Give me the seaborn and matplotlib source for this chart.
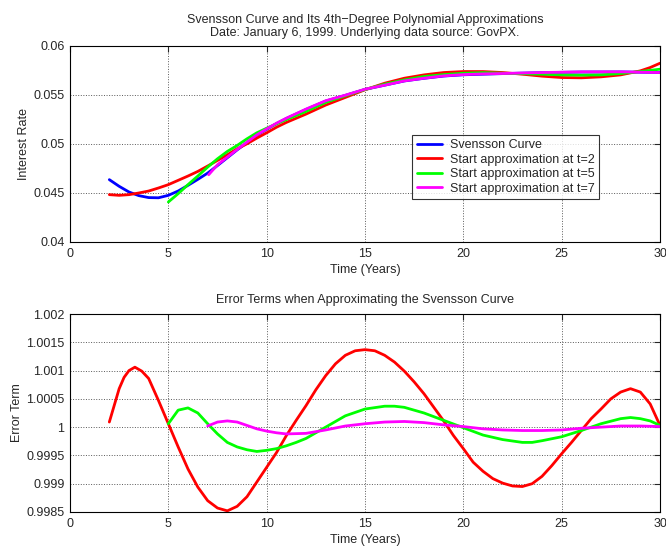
import matplotlib
matplotlib.use("Agg")
import matplotlib.pyplot as plt
import seaborn as sns
from matplotlib.ticker import FuncFormatter

# =========================================================
# DADOS
# =========================================================
# Curva de Svensson (painel superior)
t_svensson = [2, 2.5, 3, 3.5, 4, 4.5, 5, 5.5, 6, 6.5, 7, 7.5, 8, 8.5, 9, 9.5, 10, 10.5,
              11, 12, 13, 14, 15, 16, 17, 18, 19, 20, 22, 24, 26, 28, 30]
y_svensson = [0.04636, 0.04568, 0.04510, 0.04473, 0.04453, 0.04451, 0.04476, 0.04520,
              0.04578, 0.04639, 0.04703, 0.04780, 0.04860, 0.04940, 0.05015, 0.05090,
              0.05150, 0.05208, 0.05260, 0.05352, 0.05438, 0.05496, 0.05557, 0.05600,
              0.05643, 0.05670, 0.05693, 0.05706, 0.05718, 0.05728, 0.05734, 0.05735,
              0.05730]

# Aproximacao a partir de t=2
t_aprox2 = [2, 2.5, 3, 3.5, 4, 4.5, 5, 5.5, 6, 6.5, 7, 7.5, 8, 8.5, 9, 9.5, 10, 10.5,
            11, 12, 13, 14, 15, 16, 17, 18, 19, 20, 21, 22, 23, 24, 25, 26, 27, 28,
            29, 29.5, 30]
y_aprox2 = [0.04483, 0.04476, 0.04483, 0.04500, 0.04520, 0.04551, 0.04585, 0.04629,
            0.04673, 0.04720, 0.04775, 0.04832, 0.04890, 0.04951, 0.05002, 0.05060,
            0.05114, 0.05171, 0.05220, 0.05305, 0.05397, 0.05475, 0.05553, 0.05620,
            0.05671, 0.05705, 0.05729, 0.05739, 0.05739, 0.05729, 0.05712, 0.05692,
            0.05678, 0.05675, 0.05685, 0.05705, 0.05746, 0.05780, 0.05824]

# Aproximacao a partir de t=5
t_aprox5 = [5, 5.5, 6, 6.5, 7, 7.5, 8, 8.5, 9, 9.5, 10, 10.5, 11, 12, 13, 14, 15, 16,
            17, 18, 19, 20, 21, 22, 24, 25, 26, 27, 28, 29, 30]
y_aprox5 = [0.04408, 0.04493, 0.04585, 0.04673, 0.04764, 0.04849, 0.04924, 0.04985,
            0.05053, 0.05114, 0.05161, 0.05205, 0.05249, 0.05332, 0.05424, 0.05492,
            0.05556, 0.05610, 0.05654, 0.05688, 0.05708, 0.05722, 0.05728, 0.05722,
            0.05712, 0.05705, 0.05702, 0.05705, 0.05719, 0.05739, 0.05763]

# Aproximacao a partir de t=7
t_aprox7 = [7.05, 7.5, 8, 8.5, 9, 9.5, 10, 10.5, 11, 12, 13, 14, 15, 16, 17, 18, 19,
            20, 21, 22, 24, 26, 28, 30]
y_aprox7 = [0.04686, 0.04788, 0.04866, 0.04944, 0.05019, 0.05093, 0.05154, 0.05212,
            0.05263, 0.05356, 0.05441, 0.05498, 0.05559, 0.05600, 0.05644, 0.05671,
            0.05695, 0.05708, 0.05715, 0.05719, 0.05729, 0.05736, 0.05736, 0.05729]

# Termos de erro (painel inferior)
t_erro2 = [2, 2.5, 2.75, 3, 3.3, 3.65, 4, 4.5, 5, 5.5, 6, 6.5, 7, 7.5, 8, 8.5, 9, 9.5,
           10, 10.5, 11, 11.5, 12, 12.5, 13, 13.5, 14, 14.5, 15, 15.5, 16, 16.5, 17,
           17.5, 18, 18.5, 19, 19.5, 20, 20.5, 21, 21.5, 22, 22.5, 23, 23.5, 24, 24.5,
           25, 25.5, 26, 26.5, 27, 27.5, 28, 28.5, 29, 29.5, 30]
erro2 = [1.00009, 1.00068, 1.00088, 1.00100, 1.00106, 1.00099, 1.00086, 1.00047,
         1.00006, 0.99965, 0.99926, 0.99894, 0.99870, 0.99857, 0.99852, 0.99860,
         0.99877, 0.99903, 0.99929, 0.99955, 0.99985, 1.00012, 1.00038, 1.00066,
         1.00091, 1.00112, 1.00127, 1.00135, 1.00137, 1.00135, 1.00127, 1.00115,
         1.00099, 1.00080, 1.00059, 1.00035, 1.00011, 0.99985, 0.99962, 0.99938,
         0.99922, 0.99909, 0.99901, 0.99896, 0.99895, 0.99900, 0.99913, 0.99932,
         0.99953, 0.99973, 0.99994, 1.00015, 1.00032, 1.00050, 1.00062, 1.00068,
         1.00062, 1.00041, 1.00003]

t_erro5 = [5, 5.5, 6, 6.5, 7, 7.5, 8, 8.5, 9, 9.5, 10, 10.5, 11, 11.5, 12, 12.5, 13,
           13.5, 14, 15, 16, 16.5, 17, 18, 19, 20, 21, 22, 23, 23.5, 24, 25, 26, 26.5,
           27, 28, 28.5, 29, 29.5, 30]
erro5 = [1.00006, 1.00030, 1.00034, 1.00025, 1.00006, 0.99988, 0.99973, 0.99965,
         0.99960, 0.99957, 0.99959, 0.99962, 0.99967, 0.99973, 0.99980, 0.99990,
         1.00000, 1.00010, 1.00020, 1.00032, 1.00037, 1.00037, 1.00035, 1.00025,
         1.00012, 0.99999, 0.99986, 0.99978, 0.99973, 0.99973, 0.99976, 0.99983,
         0.99994, 1.00000, 1.00006, 1.00015, 1.00017, 1.00015, 1.00011, 1.00003]

t_erro7 = [7, 7.5, 8, 8.5, 9, 9.5, 10, 10.5, 11, 12, 13, 14, 15, 16, 17, 18, 19, 20,
           21, 22, 23, 24, 25, 26, 27, 28, 29, 30]
erro7 = [1.00002, 1.00009, 1.00011, 1.00009, 1.00003, 0.99997, 0.99993, 0.99990,
         0.99988, 0.99989, 0.99995, 1.00002, 1.00006, 1.00009, 1.00010, 1.00008,
         1.00004, 1.00001, 0.99997, 0.99995, 0.99994, 0.99994, 0.99995, 0.99998,
         1.00000, 1.00002, 1.00002, 1.00001]

AZUL = (0, 0, 1)
VERMELHO = (1, 0, 0)
VERDE = (0, 1, 0)
MAGENTA = (1, 0, 1)


def estilo_matlab(ax):
    """Deixa o eixo com cara de figura do MATLAB."""
    ax.set_xlim(0, 30)
    ax.set_xticks([0, 5, 10, 15, 20, 25, 30])
    ax.grid(True, linestyle=":", color="0.35", linewidth=0.7)
    ax.tick_params(direction="in", top=True, right=True, length=4, labelsize=9, pad=4)
    for s in ax.spines.values():
        s.set_color("black")
        s.set_linewidth(0.8)
    ax.yaxis.set_major_formatter(FuncFormatter(lambda v, p: f"{v:g}"))
    ax.set_xlabel("Time (Years)", fontsize=9, labelpad=3)


def main():
    sns.set_style("white")
    plt.rcParams["font.family"] = ["Liberation Sans", "DejaVu Sans"]

    fig = plt.figure(figsize=(6.66, 5.46), dpi=100)
    ax1 = fig.add_axes([0.1051, 0.5568, 0.8859, 0.359])
    ax2 = fig.add_axes([0.1051, 0.0623, 0.8859, 0.3626])

    lw = 2
    sns.lineplot(x=t_svensson, y=y_svensson, color=AZUL, lw=lw, ax=ax1,
                 label="Svensson Curve")
    sns.lineplot(x=t_aprox2, y=y_aprox2, color=VERMELHO, lw=lw, ax=ax1,
                 label="Start approximation at t=2")
    sns.lineplot(x=t_aprox5, y=y_aprox5, color=VERDE, lw=lw, ax=ax1,
                 label="Start approximation at t=5")
    sns.lineplot(x=t_aprox7, y=y_aprox7, color=MAGENTA, lw=lw, ax=ax1,
                 label="Start approximation at t=7")
    estilo_matlab(ax1)
    ax1.set_ylim(0.04, 0.06)
    ax1.set_yticks([0.04, 0.045, 0.05, 0.055, 0.06])
    ax1.set_ylabel("Interest Rate", fontsize=9, labelpad=2)
    ax1.set_title("Svensson Curve and Its 4th\u2212Degree Polynomial Approximations\n"
                  "Date: January 6, 1999. Underlying data source: GovPX.",
                  fontsize=9, pad=7, linespacing=1.15)
    leg = ax1.legend(loc="lower left", bbox_to_anchor=(0.58, 0.219), fontsize=9,
                     frameon=True, fancybox=False, handlelength=2.0,
                     handletextpad=0.7, borderpad=0.35, labelspacing=0.2,
                     borderaxespad=0)
    leg.get_frame().set_edgecolor("black")
    leg.get_frame().set_linewidth(0.8)

    sns.lineplot(x=t_erro2, y=erro2, color=VERMELHO, lw=lw, ax=ax2, legend=False)
    sns.lineplot(x=t_erro5, y=erro5, color=VERDE, lw=lw, ax=ax2, legend=False)
    sns.lineplot(x=t_erro7, y=erro7, color=MAGENTA, lw=lw, ax=ax2, legend=False)
    estilo_matlab(ax2)
    ax2.set_ylim(0.9985, 1.002)
    ax2.set_yticks([0.9985, 0.999, 0.9995, 1.0, 1.0005, 1.001, 1.0015, 1.002])
    ax2.set_ylabel("Error Term", fontsize=9, labelpad=2)
    ax2.set_title("Error Terms when Approximating the Svensson Curve", fontsize=9, pad=8)

    fig.savefig("out.png", dpi=100)
    plt.close(fig)


if __name__ == "__main__":
    main()
